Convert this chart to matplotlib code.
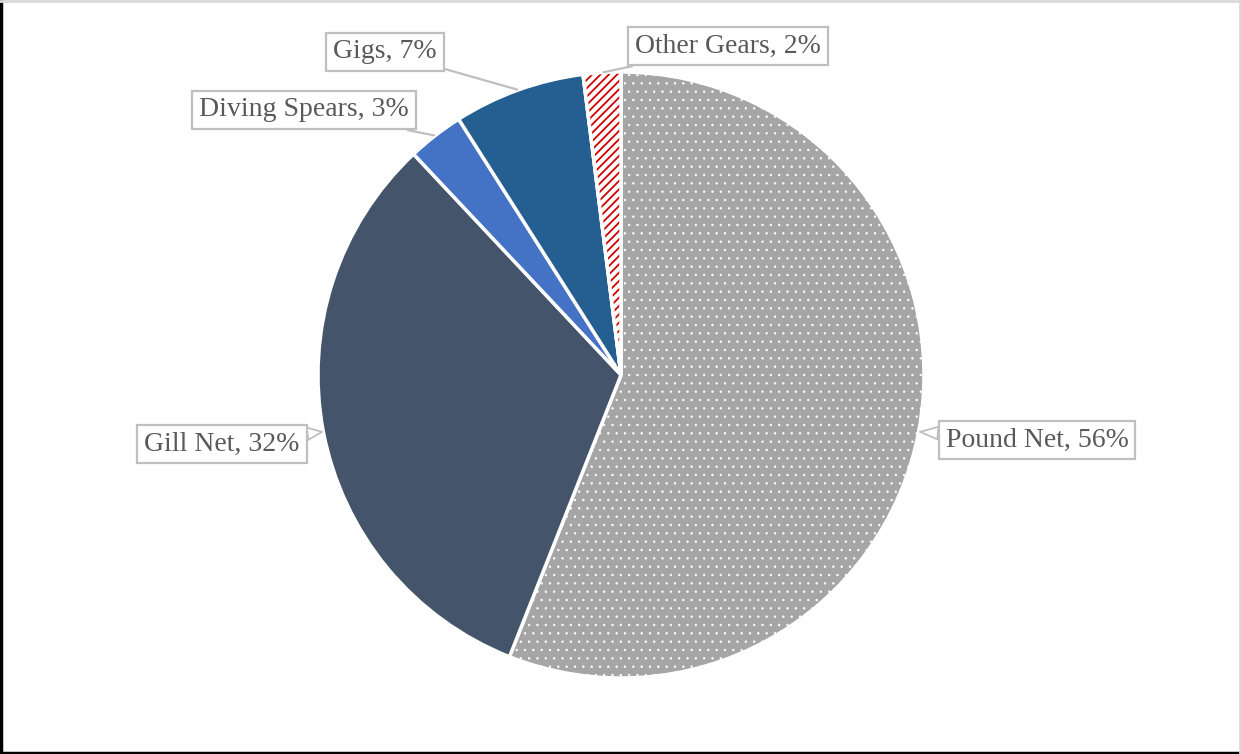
import numpy as np
import matplotlib as mpl
import matplotlib.pyplot as plt
from matplotlib.patches import Wedge

mpl.use('Agg')

gears = ["Pound Net", "Gill Net", "Diving Spears", "Gigs", "Other Gears"]
shares = [56, 32, 3, 7, 2]
colors = ["#a5a5a5", "#44546a", "#4472c4", "#255e91", "#ffffff"]

W, H = 1241, 754
cx, cy, R = 621, 375, 303   # pie centre / radius in pixel space (y down)

# label box centres (pixels, y down) and how the leader is drawn
label_pos = {
    "Pound Net": (1037, 440),
    "Gill Net": (222, 444),
    "Diving Spears": (304, 110),
    "Gigs": (385, 52),
    "Other Gears": (728, 46),
}
pointer = {"Pound Net": "wedge", "Gill Net": "wedge"}

plt.rcParams['font.family'] = ['Liberation Serif', 'DejaVu Serif']
plt.rcParams['hatch.linewidth'] = 0.5

fig = plt.figure(figsize=(W / 100, H / 100), dpi=100)
ax = fig.add_axes([0, 0, 1, 1])


def flip(y):
    return H - y


wedges, _ = ax.pie(shares, colors=colors, startangle=90, counterclock=False,
                   center=(cx, flip(cy)), radius=R, frame=True,
                   wedgeprops=dict(edgecolor='white', linewidth=2.5))
ax.set_xlim(0, W)
ax.set_ylim(0, H)
ax.set_aspect('equal')
ax.axis('off')

# dotted fill for pound net
wedges[0].set_hatch('..')

# red diagonal stripes for other gears; hatch takes the edge colour,
# so lay a striped copy on top and redraw the white outline over it
plt.rcParams['hatch.linewidth'] = 1.3
w4 = wedges[4]
z = w4.get_zorder()
ax.add_patch(Wedge(w4.center, w4.r, w4.theta1, w4.theta2, facecolor='white',
                   edgecolor='#d00000', linewidth=0, hatch='////', zorder=z + 0.1))
ax.add_patch(Wedge(w4.center, w4.r, w4.theta1, w4.theta2, facecolor='none',
                   edgecolor='white', linewidth=2.5, zorder=z + 0.2))

# labels with callout leaders pointing at each slice's middle
total = sum(shares)
start = 0.0
for g, s in zip(gears, shares):
    mid = (start + s / 2) / total * 360.0
    start += s
    px = cx + R * np.sin(np.radians(mid))
    py = cy - R * np.cos(np.radians(mid))
    tx, ty = label_pos[g]
    if pointer.get(g) == "wedge":
        ap = dict(arrowstyle="wedge,tail_width=0.45,shrink_factor=0.5",
                  facecolor='white', edgecolor='#bfbfbf', linewidth=1.3,
                  shrinkA=0, shrinkB=1)
    else:
        ap = dict(arrowstyle="-", color='#bfbfbf', linewidth=1.6,
                  shrinkA=0, shrinkB=1)
    ax.annotate(f"{g}, {s}%", xy=(px, flip(py)), xytext=(tx, flip(ty)),
                ha='center', va='center', fontsize=20, color='#595959',
                bbox=dict(boxstyle='square,pad=0.25', facecolor='white',
                          edgecolor='#bfbfbf', linewidth=1.6),
                arrowprops=ap, zorder=5)

# outer frame
ax.plot([1, 1], [0, H], color='black', lw=2.5)
ax.plot([0, W], [1.5, 1.5], color='black', lw=2.5)
ax.plot([0, W], [H - 1, H - 1], color='#d9d9d9', lw=2)
ax.plot([W - 1, W - 1], [0, H], color='#d9d9d9', lw=2)

fig.savefig('out.png', dpi=100)
